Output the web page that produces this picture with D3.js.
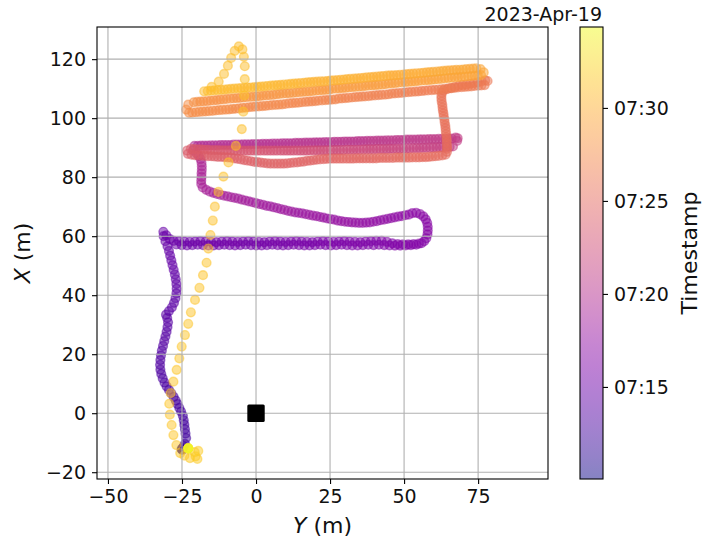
<!DOCTYPE html>
<html>
<head>
<meta charset="utf-8">
<script src="https://d3js.org/d3.v7.min.js"></script>
<style>
  body { margin: 0; background: #fff; }
  svg { display: block; font-family: "DejaVu Sans", sans-serif; }
</style>
</head>
<body>
<div id="chart"></div>
<script>
// Survey track, one entry per fix: [Y east (m), X north (m), seconds after 07:10:00]
const surveyStart = new Date(2023, 3, 19, 7, 10, 0);

const legStart = [[-25.0,-12.3,3],[-25.1,-12.1,30],[-24.9,-12.4,60],[-24.7,-11.8,90],[-24.4,-11.2,115],[-24.0,-10.4,135]];

const legWestUp = [[-23.6,-8.4,145],[-23.8,-6.9,148],[-24.0,-5.4,151],[-24.2,-3.9,154],[-24.4,-2.4,157],[-24.7,-0.9,160],[-25.3,0.5,163],[-25.9,1.8,166],[-26.5,3.1,169],[-27.1,4.3,172],[-27.8,5.5,175],[-28.6,6.7,178],[-29.4,7.9,181],[-30.2,9.1,184],[-30.9,10.4,187],[-31.5,11.8,190],[-32.0,13.3,193],[-32.3,14.8,196],[-32.4,16.4,199],[-32.3,18.0,202],[-32.1,19.6,205],[-31.8,21.2,208],[-31.4,22.8,211],[-31.0,24.4,214],[-30.6,26.0,217],[-30.2,27.6,220],[-29.9,29.2,223],[-29.7,30.8,226],[-30.0,32.3,229],[-30.4,33.4,232],[-29.4,34.6,235],[-28.4,35.9,238],[-27.7,37.4,241],[-27.2,39.0,244],[-26.9,40.6,247],[-26.8,42.2,250],[-26.9,43.8,253],[-27.1,45.4,256],[-27.4,47.0,259],[-27.8,48.6,262],[-28.2,50.2,265],[-28.6,51.8,268],[-29.0,53.4,271],[-29.4,55.0,274],[-29.9,56.6,277],[-30.6,58.3,280],[-31.2,60.0,283],[-31.3,61.5,286],[-30.3,60.3,289],[-29.1,59.0,292]];

const legRow57 = [[-27.8,58.4,296],[-26.9,57.2,297],[-26.0,58.3,298],[-25.1,57.0,299],[-24.2,58.2,300],[-23.3,56.9,301],[-22.4,58.1,302],[-21.5,57.0,303],[-20.6,58.2,304],[-19.7,57.1,305],[-18.8,58.3,306],[-17.9,57.0,307],[-17.0,58.2,308],[-16.1,56.9,309],[-15.2,58.1,310],[-14.3,56.9,311],[-13.4,58.0,312],[-12.5,57.0,313],[-11.6,58.2,314],[-10.7,57.1,315],[-9.8,58.3,316],[-8.9,57.0,317],[-8.0,58.2,318],[-7.1,56.9,319],[-6.2,58.1,320],[-5.3,57.0,321],[-4.4,58.2,322],[-3.5,57.1,323],[-2.6,58.3,324],[-1.7,57.0,325],[-0.8,58.2,326],[0.1,56.9,327],[1.0,58.1,328],[1.9,56.9,329],[2.8,58.0,330],[3.7,57.0,331],[4.6,58.2,332],[5.5,57.1,333],[6.4,58.3,334],[7.3,57.0,335],[8.2,58.2,336],[9.1,56.9,337],[10.0,58.1,338],[10.9,57.0,339],[11.8,58.2,340],[12.7,57.1,341],[13.6,58.3,342],[14.5,57.0,343],[15.4,58.2,344],[16.3,56.9,345],[17.2,58.1,346],[18.1,56.9,347],[19.0,58.0,348],[19.9,57.0,349],[20.8,58.2,350],[21.7,57.1,351],[22.6,58.3,352],[23.5,57.0,353],[24.4,58.2,354],[25.3,56.9,355],[26.2,58.1,356],[27.1,57.0,357],[28.0,58.2,358],[28.9,57.1,359],[29.8,58.3,360],[30.7,57.0,361],[31.6,58.2,362],[32.5,56.9,363],[33.4,58.1,364],[34.3,56.9,365],[35.2,58.0,366],[36.1,57.0,367],[37.0,58.2,368],[37.9,57.1,369],[38.8,58.3,370],[39.7,57.0,371],[40.6,58.4,372],[41.5,57.1,373],[42.4,58.4,374],[43.3,57.0,375],[44.2,58.1,376],[45.1,56.9,377],[46.0,57.6,378],[46.9,56.8,379],[47.8,57.3,380],[48.7,56.8,381],[49.6,57.2,382],[50.5,56.9,383],[51.4,57.2,384],[52.3,57.0,385],[53.2,57.3,386],[54.1,57.1,387],[55.0,57.5,388],[55.9,57.6,389],[56.8,58.3,390],
  [57.5,59.3,393],[57.9,60.6,396],[58.0,61.9,399],[58.0,63.2,402],[57.8,64.5,405],[57.3,65.7,408],[56.5,66.7,411],[55.4,67.5,414],[54.1,67.9,417],[52.8,67.8,420]];

const legUpperWest = [[51.6,67.3,423],[50.4,67.1,425],[49.2,66.8,427],[48.0,66.6,429],[46.8,66.4,431],[45.6,66.1,433],[44.4,65.9,435],[43.2,65.6,437],[42.0,65.4,439],[40.8,65.1,441],[39.6,64.9,443],[38.4,64.7,445],[37.2,64.6,447],[36.0,64.5,449],[34.8,64.5,451],[33.6,64.6,453],[32.4,64.7,455],[31.2,64.8,457],[30.0,64.9,459],[28.8,65.1,461],[27.6,65.3,463],[26.4,65.6,465],[25.2,65.8,467],[24.0,66.0,469],[22.8,66.3,471],[21.6,66.5,473],[20.4,66.8,475],[19.2,67.0,477],[18.0,67.2,479],[16.8,67.5,481],[15.6,67.7,483],[14.4,67.9,485],[13.2,68.1,487],[12.0,68.3,489],[10.8,68.6,491],[9.6,68.9,493],[8.4,69.2,495],[7.2,69.5,497],[6.0,69.8,499],[4.8,70.1,501],[3.6,70.3,503],[2.4,70.6,505],[1.2,70.9,507],[0.0,71.2,509],[-1.2,71.5,511],[-2.4,71.8,513],[-3.6,72.1,515],[-4.8,72.4,517],[-6.0,72.7,519],[-7.2,73.0,521],[-8.4,73.2,523],[-9.6,73.5,525],[-10.8,73.7,527],[-12.0,74.0,529],[-13.2,74.3,531],[-14.4,74.7,533],[-15.6,75.1,535],[-16.8,75.7,537],[-18.0,76.5,539],
  [-18.5,77.7,542],[-18.5,78.9,545],[-18.4,80.1,548],[-18.4,81.3,551],[-18.3,82.5,554],[-18.3,83.7,557],[-18.4,84.9,560],[-18.7,86.1,563],[-19.3,87.2,566],[-20.2,88.2,569],[-21.3,89.1,572]];

const legPinkEast = [[-20.8,90.6,576],[-19.7,90.6,577],[-18.6,90.7,578],[-17.5,90.7,579],[-16.4,90.7,580],[-15.3,90.8,581],[-14.2,90.8,582],[-13.1,90.8,583],[-12.0,90.9,584],[-10.9,90.9,585],[-9.8,90.9,586],[-8.7,90.9,587],[-7.6,91.0,588],[-6.5,91.0,589],[-5.4,91.0,590],[-4.3,91.1,591],[-3.2,91.1,592],[-2.1,91.1,593],[-1.0,91.2,594],[0.1,91.2,595],[1.2,91.2,596],[2.3,91.3,597],[3.4,91.3,598],[4.5,91.3,599],[5.6,91.4,600],[6.7,91.4,601],[7.8,91.4,602],[8.9,91.5,603],[10.0,91.5,604],[11.1,91.5,605],[12.2,91.5,606],[13.3,91.6,607],[14.4,91.6,608],[15.5,91.6,609],[16.6,91.7,610],[17.7,91.7,611],[18.8,91.7,612],[19.9,91.8,613],[21.0,91.8,614],[22.1,91.8,615],[23.2,91.9,616],[24.3,91.9,617],[25.4,91.9,618],[26.5,92.0,619],[27.6,92.0,620],[28.7,92.0,621],[29.8,92.1,622],[30.9,92.1,623],[32.0,92.1,624],[33.1,92.1,625],[34.2,92.2,626],[35.3,92.2,627],[36.4,92.2,628],[37.5,92.3,629],[38.6,92.3,630],[39.7,92.3,631],[40.8,92.4,632],[41.9,92.4,633],[43.0,92.4,634],[44.1,92.5,635],[45.2,92.5,636],[46.3,92.5,637],[47.4,92.6,638],[48.5,92.6,639],[49.6,92.6,640],[50.7,92.7,641],[51.8,92.7,642],[52.9,92.7,643],[54.0,92.7,644],[55.1,92.8,645],[56.2,92.8,646],[57.3,92.8,647],[58.4,92.9,648],[59.5,92.9,649],[60.6,92.9,650],[61.7,93.0,651],[62.8,93.0,652],[63.9,93.0,653],[65.0,93.1,654],[66.1,93.1,655],
  [67.4,93.4,659],[68.1,93.2,663],[67.9,92.3,667]];

const legPinkWest = [[66.5,90.4,671],[65.4,90.3,673],[64.3,90.2,675],[63.1,90.1,677],[62.0,90.1,679],[60.9,90.0,681],[59.8,90.0,683],[58.7,89.9,685],[57.5,89.9,687],[56.4,89.9,689],[55.3,89.8,691],[54.2,89.8,693],[53.1,89.8,695],[51.9,89.7,697],[50.8,89.7,699],[49.7,89.7,701],[48.6,89.6,703],[47.5,89.6,705],[46.3,89.6,707],[45.2,89.6,709],[44.1,89.5,711],[43.0,89.5,713],[41.9,89.5,715],[40.7,89.5,717],[39.6,89.4,719],[38.5,89.4,721],[37.4,89.4,723],[36.3,89.4,725],[35.1,89.3,727],[34.0,89.3,729],[32.9,89.3,731],[31.8,89.3,733],[30.7,89.3,735],[29.5,89.2,737],[28.4,89.2,739],[27.3,89.2,741],[26.2,89.2,743],[25.1,89.2,745],[23.9,89.1,747],[22.8,89.1,749],[21.7,89.1,751],[20.6,89.1,753],[19.5,89.1,755],[18.3,89.1,757],[17.2,89.0,759],[16.1,89.0,761],[15.0,89.0,763],[13.9,89.0,765],[12.7,89.0,767],[11.6,89.0,769],[10.5,89.0,771],[9.4,89.0,773],[8.3,89.0,775],[7.1,89.0,777],[6.0,89.0,779],[4.9,89.0,781],[3.8,89.0,783],[2.7,89.0,785],[1.5,89.0,787],[0.4,89.0,789],[-0.7,89.0,791],[-1.8,89.0,793],[-2.9,89.0,795],[-4.1,89.0,797],[-5.2,89.0,799],[-6.3,89.0,801],[-7.4,89.0,803],[-8.5,89.1,805],[-9.7,89.1,807],[-10.8,89.1,809],[-11.9,89.1,811],[-13.0,89.2,813],[-14.1,89.2,815],[-15.3,89.2,817],[-16.4,89.3,819],[-17.5,89.3,821],[-18.6,89.4,823],[-19.7,89.4,825],[-20.9,89.5,827],[-22.0,89.6,829],
  [-23.3,89.0,831],[-23.0,87.9,833]];

const legSalmonEast = [[-21.8,87.6,836],[-20.7,87.5,837],[-19.6,87.4,838],[-18.5,87.3,839],[-17.3,87.2,840],[-16.2,87.1,841],[-15.1,87.1,842],[-14.0,87.0,843],[-12.9,86.9,844],[-11.8,86.9,845],[-10.7,86.8,846],[-9.5,86.7,847],[-8.4,86.6,848],[-7.3,86.4,849],[-6.2,86.2,850],[-5.1,86.0,851],[-4.0,85.8,852],[-2.9,85.6,853],[-1.7,85.4,854],[-0.6,85.2,855],[0.5,85.1,856],[1.6,84.9,857],[2.7,84.8,858],[3.8,84.7,859],[4.9,84.6,860],[6.1,84.6,861],[7.2,84.6,862],[8.3,84.6,863],[9.4,84.6,864],[10.5,84.7,865],[11.6,84.8,866],[12.7,84.9,867],[13.9,85.0,868],[15.0,85.2,869],[16.1,85.3,870],[17.2,85.5,871],[18.3,85.6,872],[19.4,85.8,873],[20.5,85.9,874],[21.6,86.0,875],[22.8,86.1,876],[23.9,86.2,877],[25.0,86.3,878],[26.1,86.3,879],[27.2,86.3,880],[28.3,86.3,881],[29.4,86.3,882],[30.6,86.3,883],[31.7,86.3,884],[32.8,86.3,885],[33.9,86.4,886],[35.0,86.4,887],[36.1,86.4,888],[37.2,86.4,889],[38.4,86.4,890],[39.5,86.4,891],[40.6,86.4,892],[41.7,86.5,893],[42.8,86.5,894],[43.9,86.5,895],[45.0,86.5,896],[46.2,86.5,897],[47.3,86.6,898],[48.4,86.6,899],[49.5,86.6,900],[50.6,86.6,901],[51.7,86.6,902],[52.8,86.7,903],[54.0,86.7,904],[55.1,86.7,905],[56.2,86.8,906],[57.3,86.8,907],[58.4,86.9,908],[59.5,87.0,909],[60.6,87.1,910],[61.7,87.2,911],[62.9,87.4,912],[64.0,87.6,913]];

const legNorthCut = [[64.5,88.6,916],[64.5,89.6,918],[64.5,90.6,920],[64.4,91.6,922],[64.4,92.6,924],[64.3,93.6,926],[64.2,94.6,928],[64.1,95.6,930],[64.0,96.6,932],[63.9,97.6,934],[63.7,98.6,936],[63.6,99.6,938],[63.4,100.6,940],[63.3,101.6,942],[63.1,102.6,944],[63.0,103.6,946],[62.9,104.6,948],[62.7,105.6,950],[62.6,106.6,952],[62.6,107.6,954],[62.8,108.6,956],[63.3,109.4,958],
  [64.5,109.8,960],[65.8,110.2,961],[67.1,110.6,962],[68.4,110.9,963],[69.7,111.2,964],[71.0,111.4,965],[72.3,111.7,966],[73.6,111.9,967],[74.9,112.2,968],[76.2,112.5,969],[77.4,112.8,970],[78.2,112.6,971]];

const legOrangeWest1 = [[77.2,111.2,973],[76.1,111.1,974],[75.0,111.0,975],[73.8,110.9,976],[72.7,110.8,977],[71.6,110.7,978],[70.5,110.6,979],[69.4,110.5,980],[68.2,110.4,981],[67.1,110.3,982],[66.0,110.2,983],[64.9,110.1,984],[63.7,109.9,985],[62.6,109.8,986],[61.5,109.7,987],[60.4,109.6,988],[59.3,109.5,989],[58.1,109.4,990],[57.0,109.3,991],[55.9,109.2,992],[54.8,109.1,993],[53.7,109.0,994],[52.5,108.9,995],[51.4,108.8,996],[50.3,108.7,997],[49.2,108.6,998],[48.0,108.5,999],[46.9,108.4,1000],[45.8,108.3,1001],[44.7,108.1,1002],[43.6,108.0,1003],[42.4,107.9,1004],[41.3,107.8,1005],[40.2,107.7,1006],[39.1,107.6,1007],[38.0,107.5,1008],[36.8,107.4,1009],[35.7,107.3,1010],[34.6,107.2,1011],[33.5,107.1,1012],[32.4,107.0,1013],[31.2,106.9,1014],[30.1,106.8,1015],[29.0,106.7,1016],[27.9,106.6,1017],[26.8,106.4,1018],[25.6,106.3,1019],[24.5,106.2,1020],[23.4,106.1,1021],[22.3,106.0,1022],[21.1,105.9,1023],[20.0,105.8,1024],[18.9,105.7,1025],[17.8,105.6,1026],[16.7,105.5,1027],[15.5,105.4,1028],[14.4,105.3,1029],[13.3,105.2,1030],[12.2,105.1,1031],[11.1,105.0,1032],[9.9,104.8,1033],[8.8,104.7,1034],[7.7,104.6,1035],[6.6,104.5,1036],[5.4,104.4,1037],[4.3,104.3,1038],[3.2,104.2,1039],[2.1,104.1,1040],[1.0,104.0,1041],[-0.2,103.9,1042],[-1.3,103.8,1043],[-2.4,103.7,1044],[-3.5,103.6,1045],[-4.6,103.5,1046],[-5.8,103.3,1047],[-6.9,103.2,1048],[-8.0,103.1,1049],[-9.1,103.0,1050],[-10.2,102.9,1051],[-11.4,102.8,1052],[-12.5,102.7,1053],[-13.6,102.6,1054],[-14.7,102.5,1055],[-15.9,102.4,1056],[-17.0,102.3,1057],[-18.1,102.2,1058],[-19.2,102.1,1059],[-20.3,102.0,1060],[-21.5,101.9,1061],[-22.6,101.8,1062],
  [-23.6,102.9,1065],[-22.9,104.6,1068]];

const legOrangeEast = [[-21.0,105.4,1071],[-19.9,105.5,1072],[-18.8,105.6,1073],[-17.7,105.7,1074],[-16.5,105.8,1075],[-15.4,105.9,1076],[-14.3,106.0,1077],[-13.2,106.1,1078],[-12.1,106.3,1079],[-11.0,106.4,1080],[-9.9,106.5,1081],[-8.7,106.6,1082],[-7.6,106.7,1083],[-6.5,106.8,1084],[-5.4,106.9,1085],[-4.3,107.0,1086],[-3.2,107.1,1087],[-2.0,107.2,1088],[-0.9,107.3,1089],[0.2,107.4,1090],[1.3,107.5,1091],[2.4,107.6,1092],[3.5,107.7,1093],[4.6,107.8,1094],[5.8,107.9,1095],[6.9,108.1,1096],[8.0,108.2,1097],[9.1,108.3,1098],[10.2,108.4,1099],[11.3,108.5,1100],[12.5,108.6,1101],[13.6,108.7,1102],[14.7,108.8,1103],[15.8,108.9,1104],[16.9,109.0,1105],[18.0,109.1,1106],[19.1,109.2,1107],[20.3,109.3,1108],[21.4,109.4,1109],[22.5,109.5,1110],[23.6,109.6,1111],[24.7,109.7,1112],[25.8,109.9,1113],[27.0,110.0,1114],[28.1,110.1,1115],[29.2,110.2,1116],[30.3,110.3,1117],[31.4,110.4,1118],[32.5,110.5,1119],[33.6,110.6,1120],[34.8,110.7,1121],[35.9,110.8,1122],[37.0,110.9,1123],[38.1,111.0,1124],[39.2,111.1,1125],[40.3,111.2,1126],[41.4,111.3,1127],[42.6,111.4,1128],[43.7,111.5,1129],[44.8,111.7,1130],[45.9,111.8,1131],[47.0,111.9,1132],[48.1,112.0,1133],[49.3,112.1,1134],[50.4,112.2,1135],[51.5,112.3,1136],[52.6,112.4,1137],[53.7,112.5,1138],[54.8,112.6,1139],[55.9,112.7,1140],[57.1,112.8,1141],[58.2,112.9,1142],[59.3,113.0,1143],[60.4,113.1,1144],[61.5,113.2,1145],[62.6,113.3,1146],[63.7,113.5,1147],[64.9,113.6,1148],[66.0,113.7,1149],[67.1,113.8,1150],[68.2,113.9,1151],[69.3,114.0,1152],[70.4,114.1,1153],[71.6,114.2,1154],[72.7,114.3,1155],[73.8,114.4,1156],[74.9,114.5,1157],[76.0,114.6,1158],
  [76.9,115.5,1161],[75.8,116.6,1164]];

const legOrangeWest2 = [[74.4,116.9,1167],[73.3,116.8,1168],[72.2,116.7,1169],[71.0,116.6,1170],[69.9,116.5,1171],[68.8,116.4,1172],[67.7,116.4,1173],[66.6,116.3,1174],[65.4,116.2,1175],[64.3,116.1,1176],[63.2,116.0,1177],[62.1,115.9,1178],[61.0,115.8,1179],[59.8,115.7,1180],[58.7,115.6,1181],[57.6,115.5,1182],[56.5,115.4,1183],[55.4,115.3,1184],[54.2,115.2,1185],[53.1,115.1,1186],[52.0,115.0,1187],[50.9,114.9,1188],[49.8,114.8,1189],[48.6,114.7,1190],[47.5,114.6,1191],[46.4,114.5,1192],[45.3,114.5,1193],[44.2,114.4,1194],[43.0,114.3,1195],[41.9,114.2,1196],[40.8,114.1,1197],[39.7,114.0,1198],[38.6,113.9,1199],[37.4,113.8,1200],[36.3,113.7,1201],[35.2,113.6,1202],[34.1,113.5,1203],[33.0,113.4,1204],[31.8,113.3,1205],[30.7,113.2,1206],[29.6,113.1,1207],[28.5,113.0,1208],[27.4,112.9,1209],[26.2,112.8,1210],[25.1,112.7,1211],[24.0,112.6,1212],[22.9,112.5,1213],[21.8,112.5,1214],[20.6,112.4,1215],[19.5,112.3,1216],[18.4,112.2,1217],[17.3,112.1,1218],[16.2,112.0,1219],[15.0,111.9,1220],[13.9,111.8,1221],[12.8,111.7,1222],[11.7,111.6,1223],[10.6,111.5,1224],[9.4,111.4,1225],[8.3,111.3,1226],[7.2,111.2,1227],[6.1,111.1,1228],[5.0,111.0,1229],[3.8,110.9,1230],[2.7,110.8,1231],[1.6,110.7,1232],[0.5,110.6,1233],[-0.6,110.5,1234],[-1.8,110.4,1235],[-2.9,110.4,1236],[-4.0,110.3,1237],[-5.1,110.2,1238],[-6.2,110.1,1239],[-7.4,110.0,1240],[-8.5,109.9,1241],[-9.6,109.8,1242],[-10.7,109.7,1243],[-11.8,109.6,1244],[-13.0,109.5,1245],[-14.1,109.4,1246],[-15.2,109.3,1247],[-16.3,109.2,1248],[-17.5,109.1,1249]];

const legReturn = [[-15.0,110.6,1252],[-12.6,112.4,1253],[-10.8,115.0,1254],[-9.5,117.8,1255],[-8.4,120.4,1256],[-7.2,122.8,1257],[-5.8,124.3,1258],[-4.6,123.3,1259],[-4.1,120.8,1260],[-3.8,117.6,1261],[-3.8,113.2,1262],[-4.0,107.7,1263],[-4.3,102.2,1264],[-4.8,96.3,1265],[-6.8,90.6,1266],[-9.3,85.0,1267],[-11.0,80.2,1268],[-12.7,75.0,1269],[-13.9,70.0,1270],[-14.6,65.3,1271],[-15.4,60.4,1272],[-16.1,55.8,1273],[-16.7,51.0,1274],[-17.9,46.8,1275],[-19.1,42.5,1276],[-20.6,38.4,1277],[-22.0,34.2,1278],[-22.9,30.3,1279],[-24.0,26.5,1280],[-25.1,22.6,1281],[-25.9,18.6,1282],[-26.8,14.7,1283],[-27.9,10.7,1284],[-28.8,6.8,1285],[-29.3,3.2,1286],[-29.1,-0.5,1287],[-28.5,-4.0,1288],[-27.9,-7.4,1289],[-26.9,-10.8,1290],[-25.6,-13.5,1291]];

const legParked = [[-24.2,-14.4,1294],[-22.3,-15.2,1297],[-20.4,-14.6,1300],[-19.5,-12.8,1303],[-19.8,-15.5,1306],[-20.7,-13.2,1309],[-22.9,-11.9,1330],[-22.9,-11.9,1365],[-22.9,-11.9,1400],[-22.9,-11.9,1435],[-22.9,-11.9,1461]];

const basePoint = [[0, 0]];

const xTicks = [-50, -25, 0, 25, 50, 75];
const yTicks = [-20, 0, 20, 40, 60, 80, 100, 120];

const W = 703, H = 540;
const plot = { left: 97, right: 548, top: 27, bottom: 479 };
const bar = { left: 580, right: 603 };
const FONT = '"DejaVu Sans", sans-serif';

const track = [].concat(legStart, legWestUp, legRow57, legUpperWest, legPinkEast, legPinkWest,
    legSalmonEast, legNorthCut, legOrangeWest1, legOrangeEast, legOrangeWest2, legReturn, legParked)
  .map(([e, n, s]) => ({ e, n, time: new Date(+surveyStart + s * 1000) }));

const svg = d3.select('#chart').append('svg')
  .attr('width', W).attr('height', H)
  .attr('font-family', FONT);

const x = d3.scaleLinear().domain([-53.7, 98.6]).range([plot.left, plot.right]);
const y = d3.scaleLinear().domain([-22.3, 130.9]).range([plot.bottom, plot.top]);

const tExtent = d3.extent(track, d => d.time);
const color = d3.scaleSequential(d3.interpolatePlasma).domain(tExtent);

const defs = svg.append('defs');
defs.append('clipPath').attr('id', 'plotClip')
  .append('rect')
  .attr('x', plot.left).attr('y', plot.top)
  .attr('width', plot.right - plot.left).attr('height', plot.bottom - plot.top);

// Track points, oldest first so later fixes sit on top
svg.append('g').attr('clip-path', 'url(#plotClip)')
  .selectAll('circle')
  .data(track)
  .join('circle')
  .attr('cx', d => x(d.e))
  .attr('cy', d => y(d.n))
  .attr('r', 4.4)
  .attr('fill', d => color(d.time))
  .attr('fill-opacity', 0.5)
  .attr('stroke', d => color(d.time))
  .attr('stroke-opacity', 0.5)
  .attr('stroke-width', 1.4);

// Grid lines (drawn over the scatter like matplotlib)
const grid = svg.append('g').attr('stroke', '#b0b0b0').attr('stroke-width', 1.1);
grid.selectAll('line.gx').data(xTicks).join('line').attr('class', 'gx')
  .attr('x1', d => x(d)).attr('x2', d => x(d))
  .attr('y1', plot.top).attr('y2', plot.bottom);
grid.selectAll('line.gy').data(yTicks).join('line').attr('class', 'gy')
  .attr('x1', plot.left).attr('x2', plot.right)
  .attr('y1', d => y(d)).attr('y2', d => y(d));

// Reference station
svg.selectAll('rect.base').data(basePoint).join('rect').attr('class', 'base')
  .attr('x', d => x(d[0]) - 8.7).attr('y', d => y(d[1]) - 8.7)
  .attr('width', 17.4).attr('height', 17.4).attr('rx', 1.5)
  .attr('fill', '#000');

// Frame
svg.append('rect')
  .attr('x', plot.left).attr('y', plot.top)
  .attr('width', plot.right - plot.left).attr('height', plot.bottom - plot.top)
  .attr('fill', 'none').attr('stroke', '#000').attr('stroke-width', 1.1);

const styleAxis = ax => {
  ax.select('.domain').remove();
  ax.selectAll('line').attr('stroke', '#000').attr('stroke-width', 1.1);
  ax.selectAll('text').attr('font-size', '19px').attr('fill', '#111').attr('font-family', FONT);
};

svg.append('g').attr('transform', `translate(0,${plot.bottom})`)
  .call(d3.axisBottom(x).tickValues(xTicks).tickSize(5).tickPadding(6))
  .call(styleAxis);

svg.append('g').attr('transform', `translate(${plot.left},0)`)
  .call(d3.axisLeft(y).tickValues(yTicks).tickSize(5).tickPadding(6))
  .call(styleAxis);

// Axis labels
const xl = svg.append('text')
  .attr('x', (plot.left + plot.right) / 2).attr('y', 533)
  .attr('text-anchor', 'middle').attr('font-size', '22px').attr('fill', '#111');
xl.append('tspan').attr('font-style', 'italic').text('Y');
xl.append('tspan').text(' (m)');

const yl = svg.append('text')
  .attr('transform', `translate(30,${(plot.top + plot.bottom) / 2}) rotate(-90)`)
  .attr('text-anchor', 'middle').attr('font-size', '22px').attr('fill', '#111');
yl.append('tspan').attr('font-style', 'italic').text('X');
yl.append('tspan').text(' (m)');

// Colour bar
const grad = defs.append('linearGradient').attr('id', 'cbGrad')
  .attr('x1', 0).attr('y1', 1).attr('x2', 0).attr('y2', 0);
grad.selectAll('stop').data(d3.range(0, 1.0001, 0.05)).join('stop')
  .attr('offset', d => d)
  .attr('stop-color', d => d3.interpolatePlasma(d))
  .attr('stop-opacity', 0.5);

svg.append('rect')
  .attr('x', bar.left).attr('y', plot.top)
  .attr('width', bar.right - bar.left).attr('height', plot.bottom - plot.top)
  .attr('fill', 'url(#cbGrad)')
  .attr('stroke', '#000').attr('stroke-width', 1.1);

const cb = d3.scaleTime().domain(tExtent).range([plot.bottom, plot.top]);
svg.append('g').attr('transform', `translate(${bar.right},0)`)
  .call(d3.axisRight(cb).ticks(d3.timeMinute.every(5)).tickFormat(d3.timeFormat('%H:%M'))
    .tickSize(5).tickPadding(6))
  .call(styleAxis);

svg.append('text')
  .attr('transform', `translate(697,${(plot.top + plot.bottom) / 2}) rotate(-90)`)
  .attr('text-anchor', 'middle').attr('font-size', '22px').attr('fill', '#111')
  .text('Timestamp');

svg.append('text')
  .attr('x', bar.right - 1).attr('y', 21)
  .attr('text-anchor', 'end').attr('font-size', '19px').attr('fill', '#111')
  .text(d3.timeFormat('%Y-%b-%d')(surveyStart));
</script>
</body>
</html>
